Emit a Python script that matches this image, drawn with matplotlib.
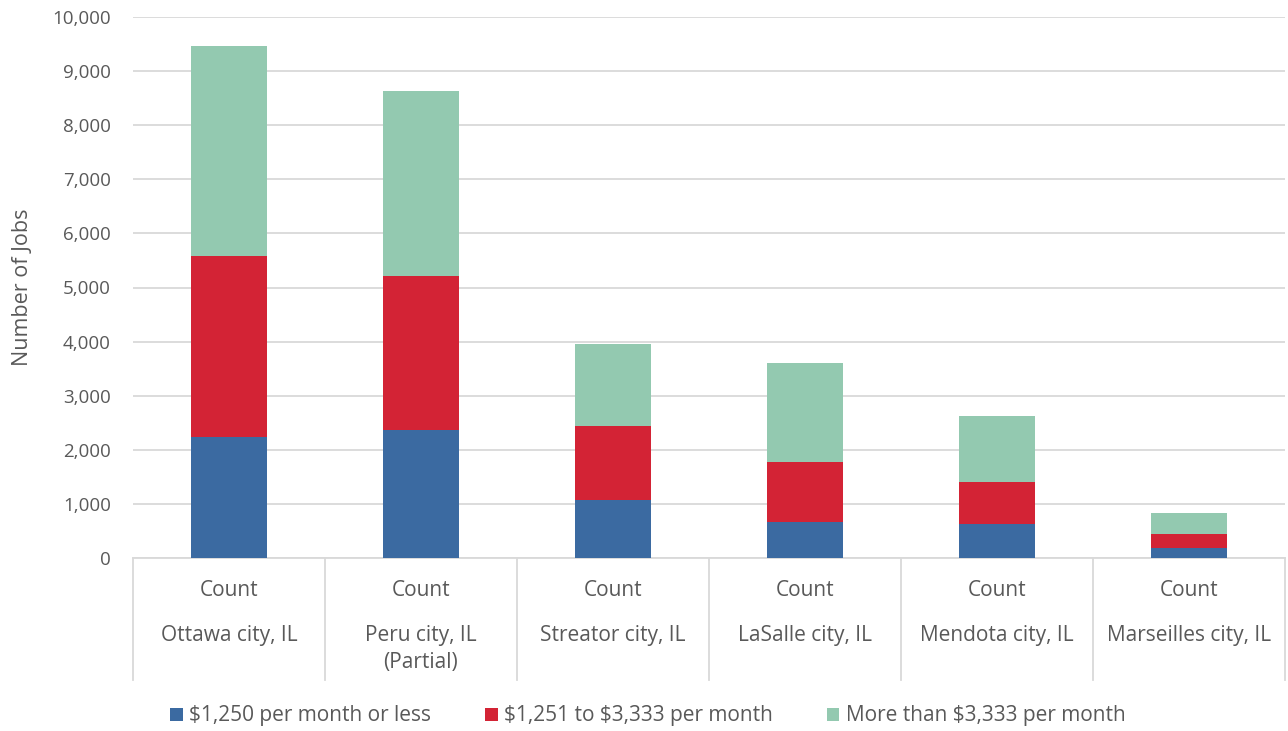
import matplotlib
matplotlib.use("Agg")
import matplotlib.pyplot as plt
from matplotlib.patches import Patch
from matplotlib.ticker import FuncFormatter, MultipleLocator

plt.rcParams['font.family'] = ['Open Sans', 'DejaVu Sans']
plt.rcParams['text.parse_math'] = False

cities = ["Ottawa city, IL", "Peru city, IL\n(Partial)", "Streator city, IL",
          "LaSalle city, IL", "Mendota city, IL", "Marseilles city, IL"]
level1 = ["Count"] * 6
series_names = ["$1,250 per month or less", "$1,251 to $3,333 per month",
                "More than $3,333 per month"]
low = [2235, 2370, 1080, 660, 634, 190]
mid = [3345, 2840, 1365, 1115, 776, 254]
high = [3880, 3420, 1510, 1825, 1220, 386]
colors = ["#3B6AA1", "#D32335", "#93C9B0"]

text_c = "#595959"
grid_c = "#D9D9D9"

fig = plt.figure(figsize=(12.88, 7.31), dpi=100)
ax = fig.add_axes([133/1288, 1 - 558/731, (1285-133)/1288, (558-17)/731])

x = list(range(len(cities)))
bottom = [0] * len(cities)
for vals, col in zip([low, mid, high], colors):
    ax.bar(x, vals, width=0.4, bottom=bottom, color=col, zorder=3)
    bottom = [b + v for b, v in zip(bottom, vals)]

ax.set_xlim(-0.5, len(cities) - 0.5)
ax.set_ylim(0, 10000)
ax.yaxis.set_major_locator(MultipleLocator(1000))
ax.yaxis.set_major_formatter(FuncFormatter(lambda v, p: f"{int(v):,}"))
ax.grid(axis='y', color=grid_c, linewidth=1.3, zorder=0)
ax.tick_params(axis='y', length=0, pad=16, labelsize=13.5, labelcolor=text_c)
ax.set_xticks([])
for s in ['left', 'right', 'top']:
    ax.spines[s].set_visible(False)
ax.spines['bottom'].set_color(grid_c)
ax.spines['bottom'].set_linewidth(1.3)
ax.set_ylabel("Number of Jobs", fontsize=15.5, color=text_c)
ax.yaxis.set_label_coords(-(133-33)/1152, 0.5)

trans = ax.get_xaxis_transform()
h = 541.0
ybot = -(680 - 558) / h
for i in range(len(cities) + 1):
    ax.plot([i - 0.5, i - 0.5], [0, ybot], transform=trans, color=grid_c,
            linewidth=1.3, clip_on=False)
for i, (l1, c) in enumerate(zip(level1, cities)):
    ax.text(i, -(591 - 558) / h, l1, transform=trans, ha='center', va='center',
            fontsize=15, color=text_c)
    ax.text(i, -(625 - 558) / h, c, transform=trans, ha='center', va='top',
            fontsize=15, color=text_c, linespacing=1.35)

handles = [Patch(facecolor=c, edgecolor='none') for c in colors]
fig.legend(handles, series_names, loc='center', bbox_to_anchor=(0.503, 1 - 716/731),
           ncol=3, frameon=False, fontsize=15, labelcolor=text_c,
           handlelength=0.6, handleheight=0.6, handletextpad=0.3, columnspacing=2.6)

fig.savefig("out.png", dpi=100)
